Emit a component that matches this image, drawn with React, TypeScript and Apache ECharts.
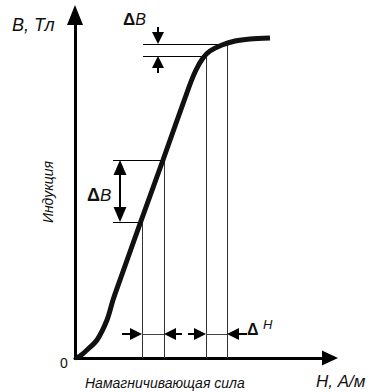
import React, { useEffect, useRef } from "react";
import * as echarts from "echarts";

// Magnetisation curve B(H), in arbitrary units
const curveH = [0, 5, 12, 22, 32, 38, 45, 66, 88, 114, 121, 128, 135, 147, 160, 175, 195];
const curveB = [0, 2, 8, 18, 38, 58, 78, 137, 198, 271, 288, 300, 307, 313, 317, 319, 320];

// Guide segments [H1, B1, H2, B2]
const verticalGuides = [
  [67, 0, 67, 136],
  [89, 0, 89, 198],
  [131, 0, 131, 302],
  [152, 0, 152, 314],
];
const horizontalGuides = [
  [38, 136, 67, 136],
  [38, 198, 89, 198],
  [68, 314, 152, 314],
  [68, 302, 131, 302],
];
const deltaHGuides = [
  [67, 24, 89, 24],
  [131, 24, 152, 24],
];
// Arrows [tailH, tailB, tipH, tipB]
const deltaHArrows = [
  [47, 24, 67, 24],
  [107, 24, 89, 24],
  [113, 24, 131, 24],
  [172, 24, 152, 24],
];
const deltaBMidArrows = [
  [45, 167, 45, 198],
  [45, 167, 45, 136],
];
const deltaBTopArrows = [
  [83, 331, 83, 314],
  [83, 285, 83, 302],
];

const FONT = "'Liberation Sans', Arial, sans-serif";

const crisp = (v: number) => Math.round(v - 0.5) + 0.5;

function segmentSeries(data: number[][], color: string, width: number) {
  return {
    type: "custom",
    data,
    encode: { x: [0, 2], y: [1, 3] },
    silent: true,
    renderItem: (_p: any, api: any) => {
      const a = api.coord([api.value(0), api.value(1)]);
      const b = api.coord([api.value(2), api.value(3)]);
      const vertical = Math.abs(a[0] - b[0]) < 0.01;
      const x1 = vertical ? crisp(a[0]) : a[0];
      const x2 = vertical ? crisp(b[0]) : b[0];
      const y1 = vertical ? a[1] : crisp(a[1]);
      const y2 = vertical ? b[1] : crisp(b[1]);
      return {
        type: "line",
        shape: { x1, y1, x2, y2 },
        style: { stroke: color, lineWidth: width },
      };
    },
  };
}

function arrowSeries(data: number[][], headLen: number, headWidth: number) {
  return {
    type: "custom",
    data,
    encode: { x: [0, 2], y: [1, 3] },
    silent: true,
    renderItem: (_p: any, api: any) => {
      const a = api.coord([api.value(0), api.value(1)]);
      const b = api.coord([api.value(2), api.value(3)]);
      const dx = b[0] - a[0];
      const dy = b[1] - a[1];
      const len = Math.hypot(dx, dy) || 1;
      const ux = dx / len;
      const uy = dy / len;
      const bx = b[0] - ux * headLen;
      const by = b[1] - uy * headLen;
      const nx = -uy;
      const ny = ux;
      const hw = headWidth / 2;
      return {
        type: "group",
        children: [
          {
            type: "line",
            shape: { x1: a[0], y1: a[1], x2: bx + ux, y2: by + uy },
            style: { stroke: "#000", lineWidth: 2 },
          },
          {
            type: "polygon",
            shape: {
              points: [
                [b[0], b[1]],
                [bx + nx * hw, by + ny * hw],
                [bx - nx * hw, by - ny * hw],
              ],
            },
            style: { fill: "#000" },
          },
        ],
      };
    },
  };
}

export default function App() {
  const ref = useRef<HTMLDivElement>(null);
  useEffect(() => {
    if (!ref.current) return;
    const chart = echarts.init(ref.current, null, { renderer: "svg" });
    const curve = curveH.map((h, i) => [h, curveB[i]]);
    chart.setOption({
      animation: false,
      backgroundColor: "#fff",
      grid: { left: 75, top: 15, right: 53, bottom: 34 },
      xAxis: {
        type: "value",
        min: 0,
        max: 255,
        axisLine: {
          show: true,
          symbol: ["none", "triangle"],
          symbolSize: [15, 16],
          lineStyle: { color: "#000", width: 3 },
        },
        axisTick: { show: false },
        axisLabel: { show: false },
        splitLine: { show: false },
      },
      yAxis: {
        type: "value",
        min: 0,
        max: 343,
        axisLine: {
          show: true,
          symbol: ["none", "triangle"],
          symbolSize: [16, 20],
          lineStyle: { color: "#000", width: 3 },
        },
        axisTick: { show: false },
        axisLabel: { show: false },
        splitLine: { show: false },
      },
      series: [
        segmentSeries(verticalGuides, "#333", 1),
        segmentSeries(horizontalGuides, "#000", 1),
        segmentSeries(deltaHGuides, "#444", 1),
        arrowSeries(deltaHArrows, 12, 12),
        arrowSeries(deltaBMidArrows, 15, 13),
        arrowSeries(deltaBTopArrows, 12, 12),
        {
          type: "line",
          data: curve,
          smooth: 0.3,
          showSymbol: false,
          silent: true,
          lineStyle: { color: "#111", width: 5 },
          z: 5,
        },
      ],
      graphic: [
        {
          type: "text",
          x: 12,
          y: 25,
          style: {
            text: "B, Тл",
            font: `italic 18px ${FONT}`,
            fill: "#111",
            textVerticalAlign: "middle",
          },
        },
        {
          type: "text",
          x: 64,
          y: 363,
          style: {
            text: "0",
            font: `14px ${FONT}`,
            fill: "#111",
            textAlign: "center",
            textVerticalAlign: "middle",
          },
        },
        {
          type: "text",
          x: 316,
          y: 381,
          style: {
            text: "H, А/м",
            font: `italic 17px ${FONT}`,
            fill: "#111",
            textVerticalAlign: "middle",
          },
        },
        {
          type: "text",
          x: 85,
          y: 383,
          style: {
            text: "Намагничивающая сила",
            font: `italic 14px ${FONT}`,
            fill: "#111",
            textVerticalAlign: "middle",
          },
        },
        {
          type: "text",
          x: 48,
          y: 192,
          rotation: Math.PI / 2,
          style: {
            text: "Индукция",
            font: `italic 14px ${FONT}`,
            fill: "#111",
            textAlign: "center",
            textVerticalAlign: "middle",
          },
        },
        {
          type: "text",
          x: 87,
          y: 195,
          style: {
            text: "{d|Δ}{b|B}",
            textVerticalAlign: "middle",
            rich: {
              d: { font: `bold 18px ${FONT}`, fill: "#111" },
              b: { font: `italic 17px ${FONT}`, fill: "#111" },
            },
          },
        },
        {
          type: "text",
          x: 123,
          y: 19,
          style: {
            text: "{d|Δ}{b|B}",
            textVerticalAlign: "middle",
            rich: {
              d: { font: `bold 17px ${FONT}`, fill: "#111" },
              b: { font: `italic 16px ${FONT}`, fill: "#111" },
            },
          },
        },
        {
          type: "text",
          x: 247,
          y: 329,
          style: {
            text: "Δ",
            font: `bold 16px ${FONT}`,
            fill: "#111",
            textVerticalAlign: "middle",
          },
        },
        {
          type: "text",
          x: 263,
          y: 324,
          style: {
            text: "H",
            font: `italic 13px ${FONT}`,
            fill: "#111",
            textVerticalAlign: "middle",
          },
        },
      ],
    });
    return () => chart.dispose();
  }, []);
  return (
    <div
      ref={ref}
      style={{ position: "fixed", left: 0, top: 0, width: 383, height: 392 }}
    />
  );
}
